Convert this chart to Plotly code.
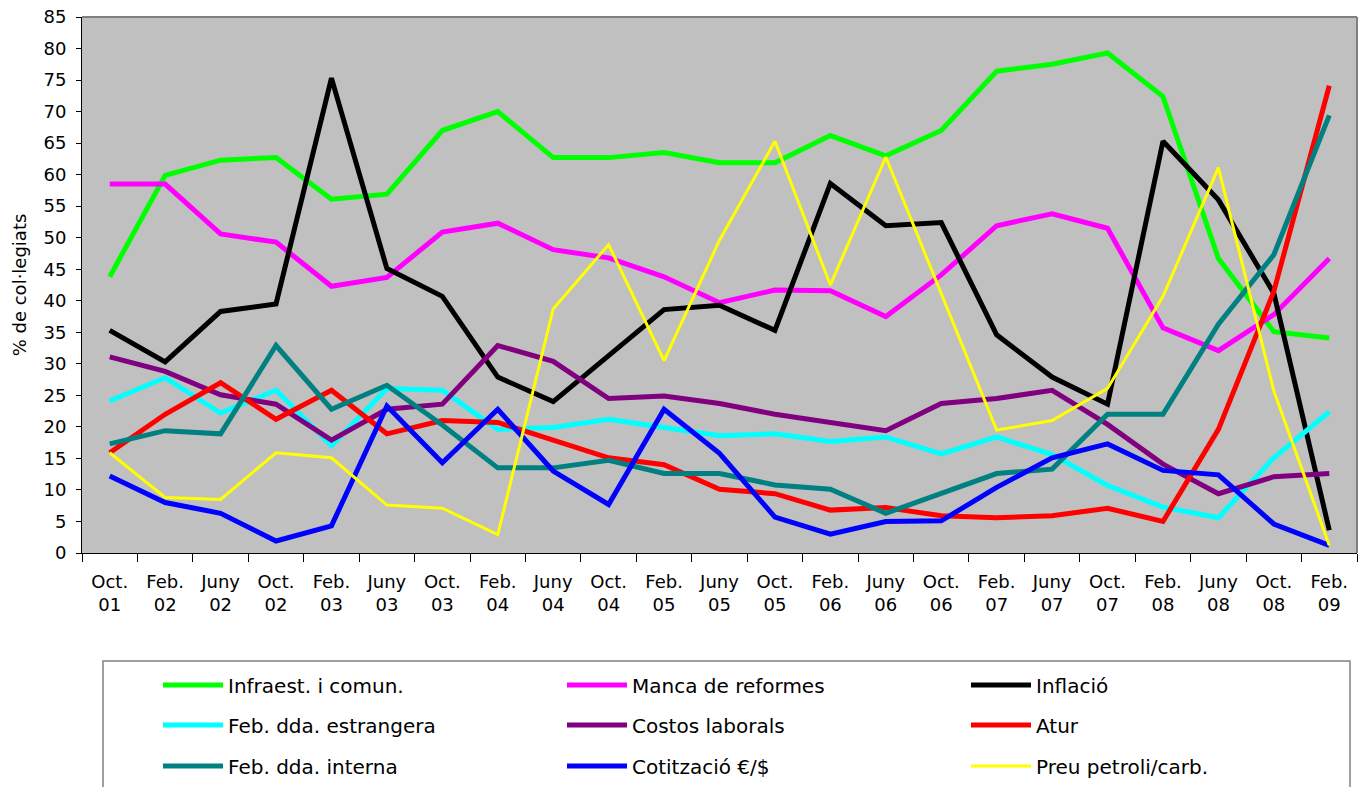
import plotly.graph_objects as go

categories = ["Oct.<br>01", "Feb.<br>02", "Juny<br>02", "Oct.<br>02", "Feb.<br>03", "Juny<br>03",
              "Oct.<br>03", "Feb.<br>04", "Juny<br>04", "Oct.<br>04", "Feb.<br>05", "Juny<br>05",
              "Oct.<br>05", "Feb.<br>06", "Juny<br>06", "Oct.<br>06", "Feb.<br>07", "Juny<br>07",
              "Oct.<br>07", "Feb.<br>08", "Juny<br>08", "Oct.<br>08", "Feb.<br>09"]

infraest = [43.8, 59.9, 62.3, 62.7, 56.1, 56.9, 67.0, 70.0, 62.7, 62.7, 63.5, 61.9, 61.9, 66.2, 63.0, 67.0, 76.4, 77.5, 79.3, 72.4, 46.7, 35.1, 34.1]
manca = [58.5, 58.5, 50.6, 49.3, 42.3, 43.7, 50.9, 52.3, 48.1, 46.8, 43.8, 39.7, 41.7, 41.6, 37.5, 44.1, 51.9, 53.8, 51.5, 35.7, 32.1, 37.8, 46.7]
inflacio = [35.3, 30.3, 38.3, 39.5, 75.3, 45.1, 40.7, 27.9, 24.0, 31.2, 38.6, 39.3, 35.3, 58.6, 51.9, 52.4, 34.6, 27.9, 23.6, 65.3, 56.0, 41.2, 3.6]
dda_estrangera = [24.1, 27.8, 22.2, 25.8, 17.0, 26.1, 25.8, 19.6, 19.9, 21.2, 19.9, 18.6, 18.9, 17.7, 18.4, 15.7, 18.4, 15.6, 10.7, 7.3, 5.6, 15.1, 22.4]
costos = [31.1, 28.8, 25.1, 23.6, 17.9, 22.8, 23.6, 32.9, 30.4, 24.5, 24.9, 23.7, 22.0, 20.7, 19.4, 23.7, 24.5, 25.8, 20.4, 14.1, 9.4, 12.1, 12.6]
atur = [15.9, 22.0, 27.0, 21.2, 25.8, 18.9, 21.0, 20.7, 17.9, 15.1, 14.0, 10.1, 9.4, 6.8, 7.2, 5.9, 5.6, 5.9, 7.1, 5.0, 19.6, 41.5, 74.1]
dda_interna = [17.3, 19.4, 18.9, 32.9, 22.8, 26.6, 20.3, 13.5, 13.5, 14.7, 12.6, 12.6, 10.8, 10.1, 6.3, 9.4, 12.6, 13.3, 22.0, 22.0, 36.3, 47.3, 69.4]
cotitzacio = [12.2, 8.0, 6.3, 1.9, 4.3, 23.3, 14.3, 22.8, 13.0, 7.7, 22.8, 15.8, 5.7, 3.0, 5.0, 5.1, 10.4, 15.1, 17.3, 13.1, 12.4, 4.6, 1.2]
petroli = [15.9, 8.8, 8.5, 15.9, 15.1, 7.6, 7.1, 2.9, 38.7, 48.9, 30.5, 49.6, 65.3, 42.5, 62.8, 41.3, 19.5, 21.0, 26.1, 40.7, 61.1, 25.7, 1.2]

series = [
    ("Infraest. i comun.", infraest, "#00FF00", 5, "legend"),
    ("Manca de reformes", manca, "#FF00FF", 5, "legend"),
    ("Inflació", inflacio, "#000000", 5, "legend"),
    ("Feb. dda. estrangera", dda_estrangera, "#00FFFF", 5, "legend2"),
    ("Costos laborals", costos, "#800080", 5, "legend2"),
    ("Atur", atur, "#FF0000", 5, "legend2"),
    ("Feb. dda. interna", dda_interna, "#008080", 5, "legend3"),
    ("Cotització €/$", cotitzacio, "#0000FF", 5, "legend3"),
    ("Preu petroli/carb.", petroli, "#FFFF00", 3, "legend3"),
]

FONT = "DejaVu Sans, Arial, sans-serif"

fig = go.Figure()
for name, vals, color, w, lg in series:
    fig.add_trace(go.Scatter(x=categories, y=vals, name=name, mode="lines",
                             line=dict(color=color, width=w), legend=lg))

OFF = 8  # page body margin
W, H = 1368, 787
L = 82 - OFF
T = 17 - OFF
R = W - (1357 - OFF)
B = H - (553 - OFF)
ph = H - T - B
pw = W - L - R

def py(p):
    return (H - B - (p - OFF)) / ph

def px(p):
    return ((p - OFF) - L) / pw

leg_common = dict(orientation="h", xanchor="left", yanchor="middle",
                  entrywidth=329, entrywidthmode="pixels", itemwidth=60,
                  font=dict(family=FONT, size=20, color="black"),
                  bgcolor="rgba(0,0,0,0)", borderwidth=0, x=px(158))

fig.update_layout(
    width=W, height=H,
    margin=dict(l=L, r=R, t=T, b=B, autoexpand=False),
    paper_bgcolor="white", plot_bgcolor="#C0C0C0",
    font=dict(family=FONT, size=18, color="black"),
    showlegend=True,
    legend=dict(**leg_common, y=py(685)),
    legend2=dict(**leg_common, y=py(725)),
    legend3=dict(**leg_common, y=py(766)),
    xaxis=dict(type="category", range=[-0.5, len(categories) - 0.5], showgrid=False,
               showline=True, linecolor="black", linewidth=1,
               ticks="outside", tickson="boundaries", ticklen=8, tickcolor="black",
               ticklabelstandoff=12, ticklabeloverflow="allow",
               tickfont=dict(family=FONT, size=18, color="black"), zeroline=False),
    yaxis=dict(range=[0, 85], dtick=5, tick0=0, showgrid=False, showline=True, linecolor="black",
               linewidth=1, ticks="outside", ticklen=5, tickcolor="black",
               ticklabelstandoff=6, ticklabeloverflow="allow",
               tickfont=dict(family=FONT, size=18, color="black"), zeroline=False,
               title=dict(text="% de col·legiats", font=dict(family=FONT, size=18, color="black"),
                          standoff=12)),
    shapes=[
        dict(type="line", xref="paper", yref="paper", x0=0, x1=1, y0=1, y1=1,
             line=dict(color="#808080", width=2)),
        dict(type="line", xref="paper", yref="paper", x0=1, x1=1, y0=0, y1=1,
             line=dict(color="#808080", width=2)),
        dict(type="rect", xref="paper", yref="paper", x0=px(103), x1=px(1350),
             y0=py(661), y1=py(800), line=dict(color="#808080", width=1.5),
             fillcolor="rgba(0,0,0,0)"),
    ],
)

fig.write_html("out.html")
